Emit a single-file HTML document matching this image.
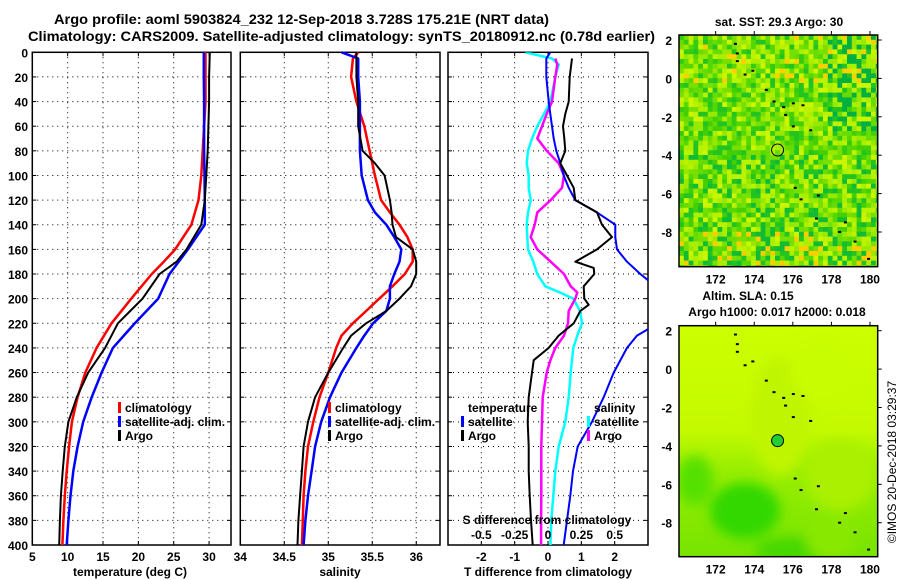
<!DOCTYPE html>
<html><head><meta charset="utf-8"><style>
body{margin:0;background:#fff;}
svg{display:block;font-family:"Liberation Sans",sans-serif;font-weight:bold;}
</style></head><body>
<svg id="chart" width="900" height="580" viewBox="0 0 900 580" xmlns="http://www.w3.org/2000/svg">
<defs>
<filter id="blur6" x="-20%" y="-20%" width="140%" height="140%"><feGaussianBlur stdDeviation="6"/></filter>
<linearGradient id="slaGrad" x1="0" y1="0" x2="0" y2="1">
<stop offset="0" stop-color="#ccff00"/><stop offset="0.45" stop-color="#c4fa00"/><stop offset="0.62" stop-color="#99ee00"/><stop offset="1" stop-color="#77e400"/>
</linearGradient>
</defs>
<rect width="900" height="580" fill="#fff"/>
<text x="54" y="24" font-size="14" textLength="495" lengthAdjust="spacingAndGlyphs">Argo profile: aoml 5903824_232 12-Sep-2018 3.728S 175.21E (NRT data)</text>
<text x="28" y="41" font-size="14" textLength="627" lengthAdjust="spacingAndGlyphs">Climatology: CARS2009. Satellite-adjusted climatology: synTS_20180912.nc (0.78d earlier)</text>
<g id="plots"></g>
</svg>
<script>
// ---- data ----
const tDepth = [0,20,40,60,80,100,120,140,160,170,180,200,220,240,260,280,300,320,340,360,380,400];
const tempArgo = [30.1,30.0,30.0,29.9,29.8,29.6,29.4,28.9,26.8,25.4,23.0,20.6,17.1,15.3,12.9,11.3,10.1,9.6,9.3,9.05,8.9,8.8];
const tempClim = [29.5,29.5,29.5,29.3,29.1,28.9,28.5,27.5,25.2,23.6,21.9,19.0,16.2,14.1,12.5,11.4,10.6,10.2,9.86,9.6,9.4,9.25];
const tempSat = [29.25,29.25,29.3,29.3,29.3,29.35,29.4,29.4,27.0,25.7,24.4,22.8,19.5,16.4,14.8,13.4,12.2,11.4,10.8,10.4,10.1,9.86];
const sDepth = [0,5,20,40,60,80,90,100,120,130,140,150,160,170,180,190,200,210,220,230,240,260,280,300,320,340,360,380,400];
const salArgo = [35.32,35.32,35.32,35.34,35.34,35.39,35.53,35.64,35.70,35.72,35.73,35.77,35.96,36.0,36.0,35.94,35.81,35.66,35.43,35.26,35.17,35.0,34.85,34.77,34.72,34.70,34.68,34.66,34.65];
const salClim = [35.34,35.28,35.26,35.32,35.41,35.47,35.50,35.53,35.60,35.70,35.81,35.90,35.96,35.96,35.87,35.73,35.58,35.43,35.28,35.15,35.09,35.0,34.90,34.83,34.77,34.74,34.72,34.71,34.70];
const salSat = [35.15,35.34,35.34,35.36,35.36,35.36,35.37,35.38,35.45,35.53,35.66,35.75,35.83,35.81,35.75,35.70,35.70,35.66,35.51,35.41,35.32,35.15,35.02,34.92,34.85,34.81,34.77,34.74,34.72];
const dtDepth = [5,20,40,50,60,70,80,90,100,110,120,130,140,150,160,170,175,180,190,200,205,210,220,230,240,250,260,280,300,320,340,360,380,400];
const dtArgo = [0.72,0.65,0.62,0.52,0.45,0.49,0.52,0.37,0.57,0.77,0.82,1.47,1.62,1.92,1.47,0.82,1.37,1.39,1.07,1.09,1.22,0.97,0.77,0.32,0.02,-0.43,-0.48,-0.58,-0.61,-0.58,-0.58,-0.55,-0.51,-0.46];
const dtsDepth = [0,5,20,40,50,60,70,80,90,100,110,120,130,140,150,160,170,180,185,190,220,230,240,260,280,300,320,340,360,380,400];
const dtSat = [0.07,-0.05,-0.05,0.02,0.07,0.12,0.17,0.25,0.37,0.47,0.62,0.82,1.47,2.02,2.02,2.07,2.37,2.77,3.0,3.3,3.3,2.67,2.37,1.97,1.67,1.32,0.89,0.75,0.67,0.57,0.47];
const dsDepth = [0,5,10,20,40,50,60,70,80,90,100,110,120,130,140,150,160,170,180,190,195,200,210,220,230,240,260,280,300,320,340,360,380,400];
const dsSat = [-0.17,0.03,0.08,0.055,0.018,-0.03,-0.08,-0.12,-0.15,-0.16,-0.145,-0.145,-0.13,-0.15,-0.16,-0.155,-0.15,-0.11,-0.08,-0.02,0.09,0.19,0.24,0.255,0.22,0.19,0.17,0.155,0.13,0.08,0.055,0.04,0.025,0.018];
const dsaDepth = [5,10,20,40,50,60,70,80,90,100,110,120,130,140,150,160,170,180,190,195,200,210,220,230,240,250,260,280,300,320,340,360,380,400];
const dsArgo = [0.055,0.07,0.055,0.03,-0.01,-0.045,-0.08,-0.01,0.08,0.12,0.105,0.02,-0.08,-0.1,-0.13,-0.08,0.02,0.12,0.17,0.22,0.205,0.155,0.15,0.12,0.055,0.018,-0.01,-0.04,-0.045,-0.05,-0.05,-0.05,-0.052,-0.052];
const depthTicks = [0,20,40,60,80,100,120,140,160,180,200,220,240,260,280,300,320,340,360,380,400];
const tempTicks = [5,10,15,20,25,30];
const salTicks = [34,34.5,35,35.5,36];
const tdTicks = [-2,-1,0,1,2];
const sdTickLabels = ['-0.5','-0.25','0','0.25','0.5'];
const sdTicks = [-0.5,-0.25,0,0.25,0.5];
const latTicks = [2,0,-2,-4,-6,-8];
const lonTicks = [172,174,176,178,180];
const argoLon = 175.21, argoLat = -3.728;

// ---- helpers ----
const NS='http://www.w3.org/2000/svg';
const G=document.getElementById('plots');
function mk(tag,attrs,parent){const e=document.createElementNS(NS,tag);for(const k in attrs)e.setAttribute(k,attrs[k]);(parent||G).appendChild(e);return e;}
const Y0=52.3,Y1=545, yD=d=>Y0+d*(Y1-Y0)/400;
function scale(d0,d1,r0,r1){return v=>r0+(v-d0)*(r1-r0)/(d1-d0);}
const xT=scale(5,33.1,32.3,231), xS=scale(34,36.27,240.3,440), xTD=scale(-3,3,448,648), xSD=scale(-0.75,0.75,448,648);

function panel(name,x0,x1,vgrid,xf){
  const g=mk('g',{});
  
  
  depthTicks.forEach(d=>{ if(d>0&&d<400){const l=mk('line',{x1:x0,x2:x1,y1:yD(d),y2:yD(d),stroke:'#000','stroke-width':1,'stroke-dasharray':'1 4'},g);}
    mk('line',{x1:x0,x2:x0+4,y1:yD(d),y2:yD(d),stroke:'#000'},g); mk('line',{x1:x1-4,x2:x1,y1:yD(d),y2:yD(d),stroke:'#000'},g);});
  vgrid.forEach(v=>{const x=xf(v); if(x>x0+1&&x<x1-1){const l=mk('line',{x1:x,x2:x,y1:Y0,y2:Y1,stroke:'#000','stroke-width':1,'stroke-dasharray':'1 4'},g);}
    mk('line',{x1:x,x2:x,y1:Y0,y2:Y0+4,stroke:'#000'},g); mk('line',{x1:x,x2:x,y1:Y1-4,y2:Y1,stroke:'#000'},g);});
  const f=mk('rect',{x:x0,y:Y0,width:x1-x0,height:Y1-Y0,fill:'none',stroke:'#000','stroke-width':1.5},g);
  
  
  return g;
}
function series(name,depths,vals,xf,color,w,clipX0,clipX1){
  const pts=depths.map((d,i)=>[Math.max(clipX0,Math.min(clipX1,xf(vals[i]))),yD(d)]);
  const p=mk('polyline',{points:pts.map(p=>p[0].toFixed(1)+','+p[1].toFixed(1)).join(' '),fill:'none',stroke:color,'stroke-width':w,'stroke-linejoin':'round'});
  
  
}
function txt(s,x,y,attrs,name){const t=mk('text',Object.assign({x:x,y:y,'font-size':12},attrs||{}));t.textContent=s;return t;}
function legendItem(name,x,y,color,label){
  const m=mk('rect',{x:x,y:y-10,width:3,height:11,fill:color});
  
  
  txt(label,x+7,y,{},name);
}

depthTicks.forEach(d=>txt(String(d),28,yD(d)+5,{'text-anchor':'end'},'depth-tick-label'));

panel('temperature-panel',32.3,231,tempTicks,xT);
series('temp-climatology',tDepth,tempClim,xT,'#f00',2.5,33,230);
series('temp-satellite-adj',tDepth,tempSat,xT,'#00f',2.5,33,230);
series('temp-argo',tDepth,tempArgo,xT,'#000',2,33,230);
tempTicks.forEach(v=>txt(String(v),xT(v),561,{'text-anchor':'middle'},'temp-tick-label'));
txt('temperature (deg C)',130,576,{'text-anchor':'middle'},'temp-axis-title');
legendItem('legend-climatology',118,412,'#f00','climatology');
legendItem('legend-satellite-adj',118,426,'#00f','satellite-adj. clim.');
legendItem('legend-argo',118,440,'#000','Argo');

panel('salinity-panel',240.3,440,salTicks,xS);
series('sal-climatology',sDepth,salClim,xS,'#f00',2.5,241,439);
series('sal-satellite-adj',sDepth,salSat,xS,'#00f',2.5,241,439);
series('sal-argo',sDepth,salArgo,xS,'#000',2,241,439);
salTicks.forEach(v=>txt(String(v),xS(v),561,{'text-anchor':'middle'},'sal-tick-label'));
txt('salinity',340,576,{'text-anchor':'middle'},'sal-axis-title');
legendItem('legend-sal-climatology',328,412,'#f00','climatology');
legendItem('legend-sal-satellite-adj',328,426,'#00f','satellite-adj. clim.');
legendItem('legend-sal-argo',328,440,'#000','Argo');

panel('difference-panel',448,648,tdTicks,xTD);
const cp=mk('clipPath',{id:'c3'}); mk('rect',{x:448,y:Y0,width:200,height:Y1-Y0},cp);
const g3=mk('g',{'clip-path':'url(#c3)'});


function series3(name,depths,vals,xf,color,w){
  const p=mk('polyline',{points:depths.map((d,i)=>xf(vals[i]).toFixed(1)+','+yD(d).toFixed(1)).join(' '),fill:'none',stroke:color,'stroke-width':w,'stroke-linejoin':'round'},g3);
  
  
}
series3('sdiff-satellite',dsDepth,dsSat,xSD,'#0ff',2.5);
series3('sdiff-argo',dsaDepth,dsArgo,xSD,'#f0f',2.5);
series3('tdiff-satellite',dtsDepth,dtSat,xTD,'#00f',2);
series3('tdiff-argo',dtDepth,dtArgo,xTD,'#000',2);
tdTicks.forEach(v=>txt(String(v),xTD(v),561,{'text-anchor':'middle'},'tdiff-tick-label'));
txt('T difference from climatology',548,576,{'text-anchor':'middle'},'tdiff-axis-title');
txt('S difference from climatology',547,524,{'text-anchor':'middle'},'sdiff-axis-title');
sdTicks.forEach((v,i)=>txt(sdTickLabels[i],xSD(v),539,{'text-anchor':'middle'},'sdiff-tick-label'));
txt('temperature',468,412,{},'legend-temperature-heading');
legendItem('legend-tdiff-satellite',461,426,'#00f','satellite');
legendItem('legend-tdiff-argo',461,440,'#000','Argo');
txt('salinity',594,412,{},'legend-salinity-heading');
legendItem('legend-sdiff-satellite',587,426,'#0ff','satellite');
legendItem('legend-sdiff-argo',587,440,'#f0f','Argo');

// ---- maps ----
const MX0=679,MX1=877.7;
const lonX=scale(170.1,180.4,MX0,MX1);
const sstPal=['#33cc11','#55d800','#77e000','#99e800','#bbf200','#22c422','#66dc00','#aaee00','#ccf500','#44d000'];
function drawMap(name,top,bottom,kind){
  const latY=scale(2,-8,top+5,top+5+192);
  const g=mk('g',{});
  
  
  const cl=mk('clipPath',{id:'cl'+kind}); mk('rect',{x:MX0,y:top,width:MX1-MX0,height:bottom-top},cl);
  const gi=mk('g',{'clip-path':'url(#cl'+kind+')'},g);
  if(kind==='sst'){
    const cs=4.8;
    for(let r=0;r*cs<bottom-top;r++)for(let c=0;c*cs<MX1-MX0;c++){
      let h=((r*73856093)^(c*19349663))>>>0; h=(h%9973)/9973;
      let fr=r/(48); let idx=Math.floor(h*10);
      let col=sstPal[idx];
      if(fr>0.85&&h>0.85)col='#ffcc00';
      else if(fr<0.2&&h>0.9)col='#ffd000';
      else if(c>30&&fr<0.4&&h<0.3)col='#00b040';
      else if(fr>0.5&&h<0.15)col='#11bb33';
      mk('rect',{x:MX0+c*cs,y:top+r*cs,width:cs+0.3,height:cs+0.3,fill:col},gi);
    }
  } else {
    mk('rect',{x:MX0,y:top,width:MX1-MX0,height:bottom-top,fill:'url(#slaGrad)'},gi);
    const bl=mk('g',{filter:'url(#blur6)'},gi);
    mk('ellipse',{cx:780,cy:top+90,rx:30,ry:60,fill:'#c0f500'},bl);
    mk('ellipse',{cx:745,cy:top+185,rx:35,ry:28,fill:'#33d800'},bl);
    mk('ellipse',{cx:695,cy:top+155,rx:18,ry:25,fill:'#55e000'},bl);
    mk('ellipse',{cx:800,cy:top+225,rx:45,ry:14,fill:'#44d800'},bl);
    mk('ellipse',{cx:840,cy:top+150,rx:35,ry:35,fill:'#aaf000'},bl);
    mk('ellipse',{cx:820,cy:top+45,rx:30,ry:30,fill:'#c8fc00'},bl);
    mk('ellipse',{cx:830,cy:top+210,rx:25,ry:25,fill:'#88e800'},bl);
  }
  const isl=[[173.0,1.8],[173.1,1.3],[173.1,0.9],[173.5,0.2],[173.9,0.4],[174.6,-0.6],[175.0,-1.2],[175.5,-1.5],[175.6,-1.9],[176.0,-1.3],[176.5,-1.4],[176.0,-2.5],[176.9,-2.7],[176.1,-5.7],[176.4,-6.3],[177.3,-6.1],[177.2,-7.3],[178.4,-8.0],[178.7,-7.5],[179.2,-8.5],[179.9,-9.4]];
  isl.forEach(p=>{const e=mk('rect',{x:lonX(p[0])-1,y:latY(p[1])-1,width:3,height:2,fill:'#000'},gi);});
  const m=mk('circle',{cx:lonX(argoLon),cy:latY(argoLat),r:6,fill:kind==='sst'?'none':'#22cc33',stroke:'#000','stroke-width':1},g);
  
  
  const f=mk('rect',{x:MX0,y:top,width:MX1-MX0,height:bottom-top,fill:'none',stroke:'#000','stroke-width':1.5},g);
  
  
  latTicks.forEach(v=>{const y=latY(v);mk('line',{x1:MX1,x2:MX1+4,y1:y,y2:y,stroke:'#000'},g);txt(String(v),672,y+5,{'text-anchor':'end'},'lat-tick-label');});
  lonTicks.forEach(v=>{const x=lonX(v);mk('line',{x1:x,x2:x,y1:top-4,y2:top,stroke:'#000'},g);txt(String(v),x,bottom+17,{'text-anchor':'middle'},'lon-tick-label');});
}
drawMap('sst-map',35,266.7,'sst');
drawMap('sla-map',325.7,556.7,'sla');
txt('sat. SST: 29.3 Argo: 30',779,26,{'text-anchor':'middle'},'sst-map-title');
txt('Altim. SLA: 0.15',748,300,{'text-anchor':'middle'},'sla-map-title');
txt('Argo h1000: 0.017 h2000: 0.018',777,316,{'text-anchor':'middle'},'sla-map-subtitle');
txt('©IMOS 20-Dec-2018 03:29:37',0,0,{'text-anchor':'middle',transform:'translate(896,462) rotate(-90)','font-weight':'normal'},'copyright-stamp');
</script>
</body></html>
